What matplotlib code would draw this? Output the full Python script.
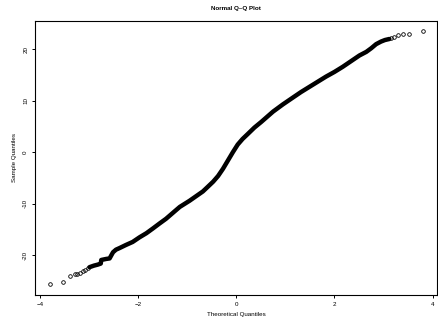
import matplotlib
matplotlib.use("Agg")

import matplotlib.pyplot as plt

plt.rcParams["font.family"] = ["Liberation Sans", "DejaVu Sans"]

# Lower tail: isolated points (theoretical, sample)
lower_x = [-3.80, -3.52, -3.38, -3.29, -3.24, -3.18, -3.12, -3.08, -3.02]
lower_y = [-25.6, -25.2, -24.0, -23.7, -23.6, -23.4, -23.1, -22.9, -22.5]

# Dense body of the Q-Q curve, read along the band centre
body_x = [-2.99, -2.90, -2.82, -2.76, -2.75, -2.65, -2.58, -2.51, -2.45,
          -2.38, -2.25, -2.11, -1.97, -1.83, -1.70, -1.56, -1.43, -1.26,
          -1.15, -0.95, -0.80, -0.68, -0.58, -0.47, -0.37, -0.27, -0.17,
          -0.07, 0.03, 0.13, 0.24, 0.37, 0.51, 0.63, 0.75, 0.95, 1.15,
          1.32, 1.49, 1.66, 1.83, 2.00, 2.17, 2.34, 2.51, 2.65, 2.75,
          2.85, 2.95, 3.03, 3.12]
body_y = [-22.3, -22.0, -21.8, -21.6, -20.9, -20.7, -20.6, -19.4, -18.9,
          -18.6, -18.0, -17.4, -16.5, -15.7, -14.8, -13.8, -12.9, -11.5,
          -10.6, -9.4, -8.4, -7.6, -6.7, -5.7, -4.6, -3.2, -1.6,
          0.0, 1.5, 2.6, 3.6, 4.8, 5.9, 6.9, 7.9, 9.3, 10.6,
          11.7, 12.7, 13.7, 14.7, 15.6, 16.6, 17.7, 18.8, 19.5, 20.2,
          21.0, 21.5, 21.8, 22.0]

# Upper tail: isolated points
upper_x = [3.16, 3.22, 3.30, 3.39, 3.53, 3.80]
upper_y = [22.1, 22.4, 22.8, 23.0, 23.0, 23.6]

x_ticks = [-4, -2, 0, 2, 4]
y_ticks = [-20, -10, 0, 10, 20]

fig = plt.figure(figsize=(4.39, 3.21), dpi=100)
ax = fig.add_axes([0.0797, 0.081, 0.9157, 0.8545])

# body drawn as a thick band (overlapping points in the original)
ax.plot(body_x, body_y, color="black", linewidth=3.2,
        solid_capstyle="round", solid_joinstyle="round")

marker_style = dict(linestyle="none", marker="o", markersize=2.6,
                    markerfacecolor="none", markeredgecolor="black",
                    markeredgewidth=0.6)
ax.plot(lower_x, lower_y, **marker_style)
ax.plot(upper_x, upper_y, **marker_style)

ax.set_xlim(-4.10, 4.09)
ax.set_ylim(-27.7, 25.55)

ax.set_xticks(x_ticks)
ax.set_yticks(y_ticks)
ax.set_yticklabels([str(t) for t in y_ticks], rotation=90, va="center")
ax.tick_params(direction="out", length=2.4, width=0.7, labelsize=4.5,
               pad=2.5, colors="black")

for side in ax.spines.values():
    side.set_linewidth(0.8)

ax.set_title("Normal Q\u2013Q Plot", fontsize=4.5, fontweight="bold", pad=8)
ax.set_xlabel("Theoretical Quantiles", fontsize=4.5, labelpad=3.5)
ax.set_ylabel("Sample Quantiles", fontsize=4.5, labelpad=4.5)

fig.savefig("out.png", dpi=100)
